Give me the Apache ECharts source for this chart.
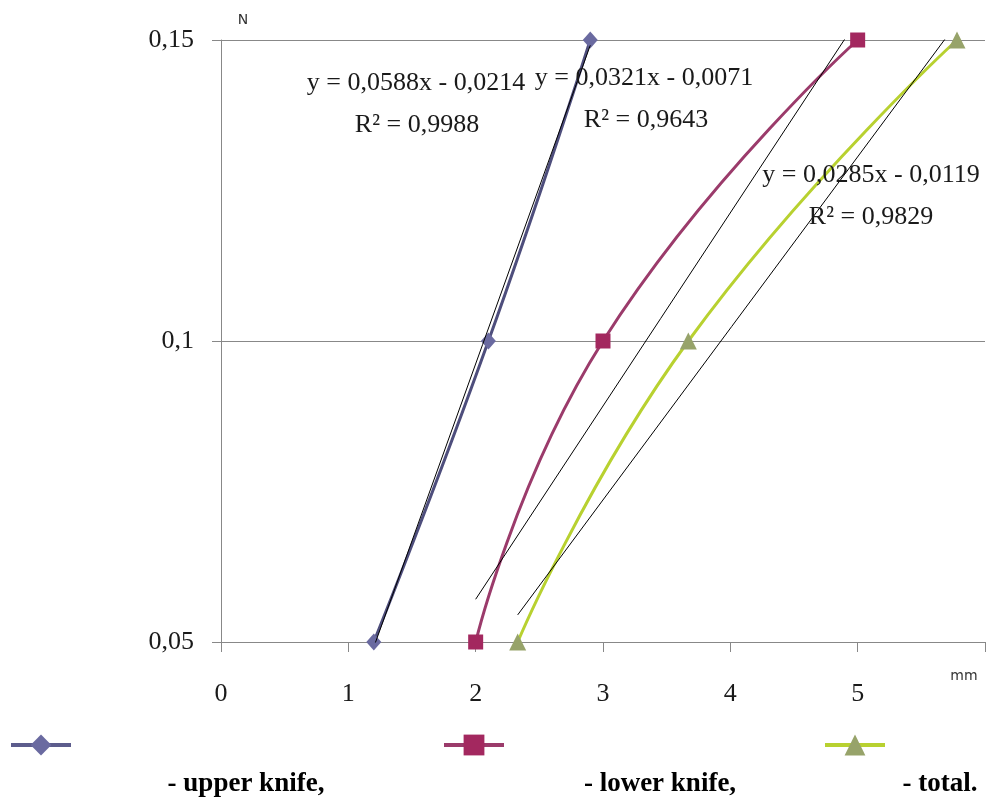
<!DOCTYPE html>
<html>
<head>
<meta charset="utf-8">
<script src="https://cdn.jsdelivr.net/npm/echarts@6/dist/echarts.min.js"></script>
<style>
html,body{margin:0;padding:0;background:#fff;}
#chart{width:988px;height:810px;}
</style>
</head>
<body>
<div id="chart"></div>
<script>
// ---- data ----
const seriesNames = ['upper knife', 'lower knife', 'total'];
const yLevels = [0.05, 0.1, 0.15];
const xUpper = [1.2, 2.1, 2.9];
const xLower = [2.0, 3.0, 5.0];
const xTotal = [2.33, 3.67, 5.78];
const trendSlope = [0.0588, 0.0321, 0.0285];
const trendIntercept = [-0.0214, -0.0071, -0.0119];
const trendR2 = ['0,9988', '0,9643', '0,9829'];
const xTicks = [0, 1, 2, 3, 4, 5];
const yTicks = [0.05, 0.1, 0.15];

const serif = '"Liberation Serif", "Times New Roman", serif';
const xs = [xUpper, xLower, xTotal];
const lineColors = ['#4e4e7c', '#9b3b6b', '#b8d130'];
const legendLineColors = ['#5c5c8c', '#9b3b6b', '#b8d130'];
const markColors = ['#6a6aa0', '#a3285f', '#97a36a'];
const symbols = ['diamond', 'rect', 'triangle'];
const symSizes = [[15, 17], 15, 17];

function fmtNum(v) {
  return String(Math.round(v * 10000) / 10000).replace('.', ',');
}
function fmtEq(i) {
  const b = trendIntercept[i];
  return 'y = ' + fmtNum(trendSlope[i]) + 'x ' + (b < 0 ? '- ' : '+ ') + fmtNum(Math.abs(b));
}

const series = [];
xs.forEach((xv, i) => {
  series.push({
    name: seriesNames[i],
    type: 'line',
    smooth: 0.5,
    data: xv.map((x, k) => [x, yLevels[k]]),
    symbol: symbols[i],
    symbolSize: symSizes[i],
    showAllSymbol: true,
    lineStyle: { color: lineColors[i], width: 3 },
    itemStyle: { color: markColors[i] },
    z: 3
  });
});
xs.forEach((xv, i) => {
  const x0 = Math.min(...xv), x1 = Math.max(...xv);
  series.push({
    name: 'trend ' + i,
    type: 'line',
    data: [[x0, trendSlope[i] * x0 + trendIntercept[i]], [x1, trendSlope[i] * x1 + trendIntercept[i]]],
    symbol: 'none',
    clip: true,
    lineStyle: { color: '#000', width: 1 },
    z: 4,
    silent: true
  });
});

const eqPos = [[416, 83, 417, 125], [644, 78, 646, 120], [871, 175, 871, 217]];
const graphics = [];
const ctr = { textAlign: 'center', textVerticalAlign: 'middle', align: 'center', verticalAlign: 'middle' };
eqPos.forEach((p, i) => {
  graphics.push({ type: 'text', x: p[0], y: p[1], z: 10,
    style: Object.assign({ text: fmtEq(i), font: '26px ' + serif, fill: '#1a1a1a' }, ctr) });
  graphics.push({ type: 'text', x: p[2], y: p[3], z: 10,
    style: Object.assign({ text: 'R\u00B2 = ' + trendR2[i], font: '26px ' + serif, fill: '#1a1a1a' }, ctr) });
});
graphics.push({ type: 'text', x: 243, y: 20, style: Object.assign({ text: 'N', font: '14px "DejaVu Sans", sans-serif', fill: '#333' }, ctr) });
graphics.push({ type: 'text', x: 964, y: 676, style: Object.assign({ text: 'mm', font: '14px "DejaVu Sans", sans-serif', fill: '#333' }, ctr) });
const legendTextPos = [[246, 784], [660, 784], [940, 784]];
const legendTexts = ['- upper knife,', '- lower knife,', '- total.'];
legendTextPos.forEach((p, i) => {
  graphics.push({ type: 'text', x: p[0], y: p[1], style: Object.assign({ text: legendTexts[i], font: 'bold 27px ' + serif, fill: '#000' }, ctr) });
});

const legendLeft = [4, 437, 818];
const legends = seriesNames.map((n, i) => ({
  data: [n], left: legendLeft[i], top: 727, orient: 'horizontal',
  itemWidth: 60, itemHeight: 26, selectedMode: false,
  lineStyle: { width: 4, color: legendLineColors[i] },
  formatter: () => '', textStyle: { fontSize: 1 }
}));

const chart = echarts.init(document.getElementById('chart'), null, { renderer: 'canvas' });
chart.setOption({
  animation: false,
  backgroundColor: '#fff',
  grid: { left: 221, right: -2, top: 40, bottom: 168, containLabel: false },
  legend: legends,
  xAxis: {
    type: 'value', min: 0, max: 6, interval: 1,
    axisLine: { show: true, lineStyle: { color: '#888', width: 1 } },
    axisTick: { show: true, length: 10, lineStyle: { color: '#888' } },
    splitLine: { show: false },
    axisLabel: { margin: 39, fontFamily: serif, fontSize: 26, color: '#1a1a1a',
      formatter: v => (xTicks.indexOf(v) >= 0 ? String(v) : '') }
  },
  yAxis: {
    type: 'value', min: 0.05, max: 0.15, interval: 0.05,
    axisLine: { show: true, lineStyle: { color: '#888', width: 1 } },
    axisTick: { show: true, length: 9, lineStyle: { color: '#888' } },
    splitLine: { show: true, lineStyle: { color: '#888', width: 1 } },
    axisLabel: { margin: 27, fontFamily: serif, fontSize: 26, color: '#1a1a1a',
      formatter: v => {
        const t = yTicks.find(y => Math.abs(y - v) < 1e-9);
        return t === undefined ? '' : fmtNum(t);
      } }
  },
  series: series,
  graphic: graphics
});
</script>
</body>
</html>
